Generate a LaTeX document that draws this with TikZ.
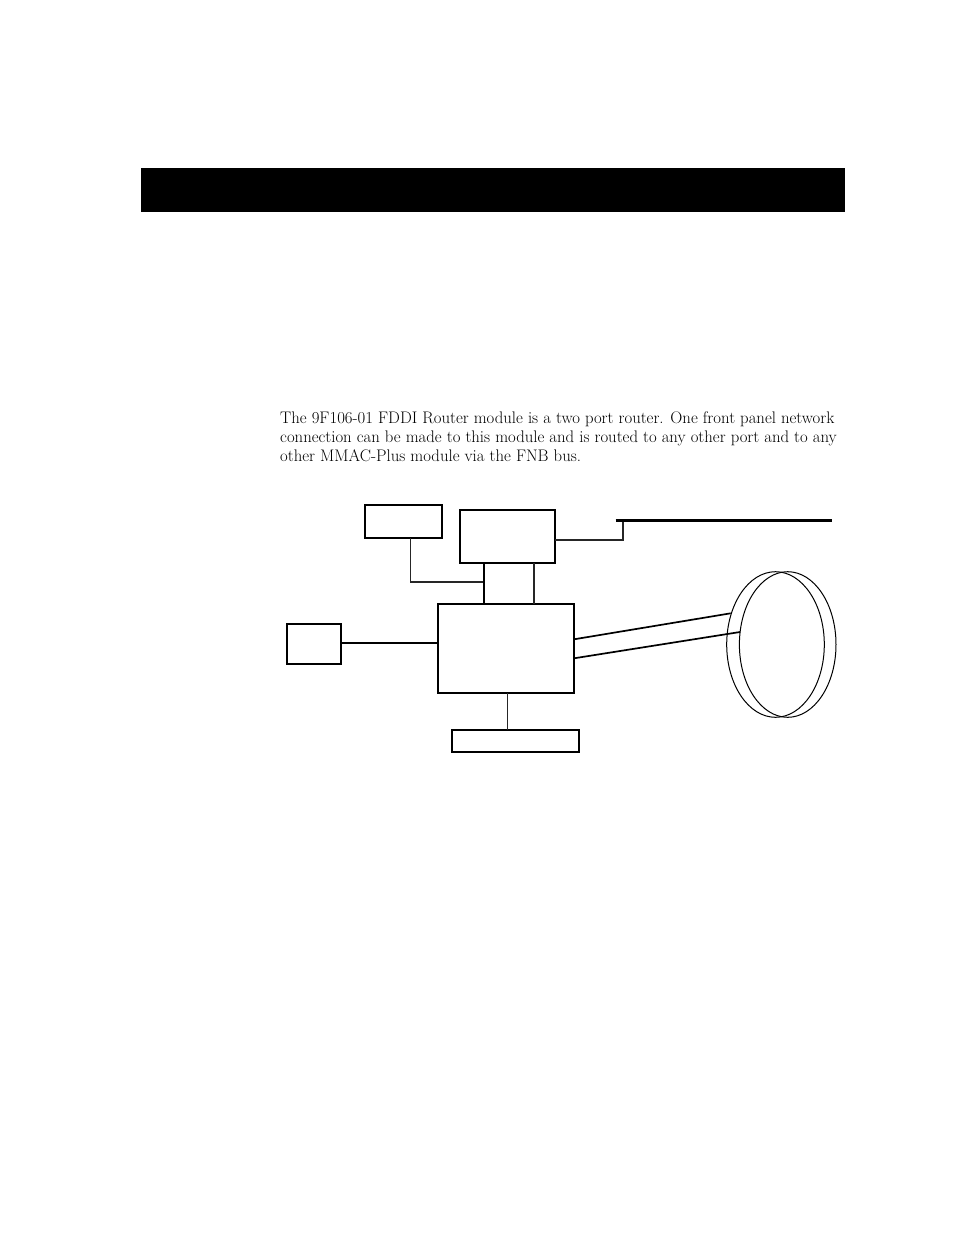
\documentclass[tikz,border=0pt]{standalone}
\begin{document}
\begin{tikzpicture}[x=1pt,y=-1pt,
  blk/.style={draw=black,line width=1.4pt,fill=white},
  thin/.style={line width=1.6pt,draw=black!85},
  thick/.style={line width=2.4pt,draw=black},
  ring/.style={draw=black,line width=1pt},
  para/.style={anchor=base west,inner sep=0pt,font=\fontsize{16.75}{19}\selectfont}]
\useasboundingbox (0,0) rectangle (954,1235);
% banner
\fill[black] (141,168) rectangle (845,212);
% paragraph
\node[para] (l1) at (280,423.3) {The 9F106-01 FDDI Router module is a two port router. One front panel network};
\node[para] (l2) at (280,442.3) {connection can be made to this module and is routed to any other port and to any};
\node[para] (l3) at (280,461.7) {other MMAC-Plus module via the FNB bus.};
% boxes
\path[blk] (365,505) rectangle (442,538);
\path[blk] (460,510) rectangle (555,563);
\path[blk] (438,604) rectangle (574,693);
\path[blk] (287,624) rectangle (341,664);
\path[blk] (452,730) rectangle (579,752);
\coordinate (Abot) at (410.3,538);
\coordinate (Aj) at (483.7,582);
\coordinate (Bbl) at (483.7,563);
\coordinate (Ctl) at (483.7,604);
\coordinate (Bbr) at (534,563);
\coordinate (Ctr) at (534,604);
\coordinate (Dr) at (341,642.7);
\coordinate (Cl) at (438,642.7);
\coordinate (Cb) at (507.3,693);
\coordinate (Et) at (507.3,730);
\coordinate (Br) at (555,540);
\coordinate (Bk) at (623,520.7);
\coordinate (Ls) at (615.7,520.7);
\coordinate (Le) at (832.3,520.7);
\coordinate (Cr1) at (574,639.3);
\coordinate (R1) at (730.7,613.3);
\coordinate (Cr2) at (574,658.3);
\coordinate (R2) at (740,632);
% connectors
\draw[thin] (Abot) |- (Aj);
\draw[thick] (Bbl) -- (Ctl);
\draw[thin] (Bbr) -- (Ctr);
\draw[thick] (Dr) -- (Cl);
\draw[thin] (Cb) -- (Et);
\draw[thin] (Br) -| (Bk);
\draw[line width=3pt] (Ls) -- (Le);
\draw[line width=1.7pt] (Cr1) -- (R1);
\draw[line width=1.7pt] (Cr2) -- (R2);
% ring
\draw[ring] (775.5,644.5) ellipse [x radius=48.8, y radius=72.8];
\draw[ring] (787.7,644.5) ellipse [x radius=48.3, y radius=72.8];
\end{tikzpicture}
\end{document}
